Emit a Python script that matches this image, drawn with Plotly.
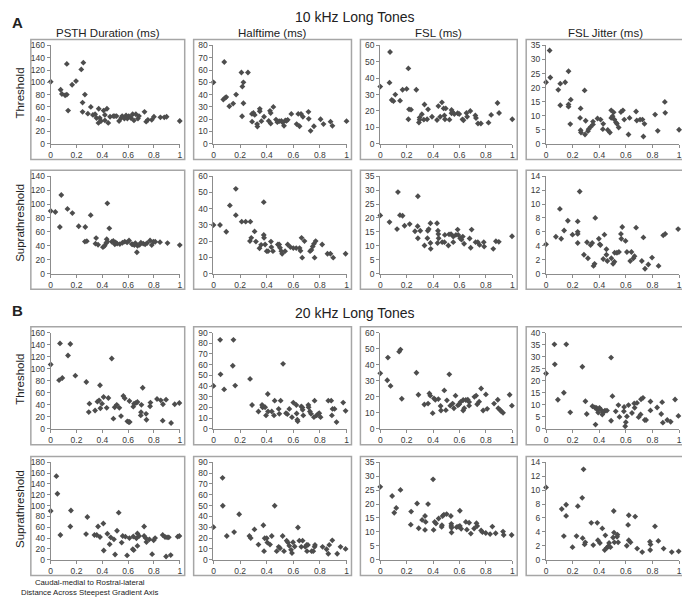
import plotly.graph_objects as go

# The page body adds an 8px margin around the figure div; compensate so that
# page pixel positions match the reference.
PAGE_W, PAGE_H = 690, 606
OFF = 8
W, H = PAGE_W - OFF, PAGE_H - OFF

# ---------------- DATA ----------------
column_titles = ["PSTH Duration (ms)", "Halftime (ms)", "FSL (ms)", "FSL Jitter (ms)"]
row_labels = ["Threshold", "Suprathreshold", "Threshold", "Suprathreshold"]
section_titles = ["10 kHz Long Tones", "20 kHz Long Tones"]
section_letters = ["A", "B"]
x_ticks = [0, 0.2, 0.4, 0.6, 0.8, 1]
x_tick_labels = ["0", "0.2", "0.4", "0.6", "0.8", "1"]

# y-axis maxima and tick steps per panel (row-major)
y_max = [160, 80, 60, 35, 140, 60, 35, 14, 160, 90, 60, 40, 180, 90, 35, 14]
y_step = [20, 10, 10, 5, 20, 10, 5, 2, 20, 10, 10, 5, 20, 10, 5, 2]

# ---- A: 10 kHz, Threshold ----
a_thr_psth_x = [0, 0.077, 0.087, 0.112, 0.125, 0.125, 0.135, 0.166, 0.196, 0.237, 0.253, 0.247, 0.247, 0.265,
                0.288, 0.311, 0.327, 0.344, 0.355, 0.372, 0.37, 0.38, 0.39, 0.41, 0.42, 0.436, 0.42, 0.446, 0.46,
                0.485, 0.497, 0.51, 0.53, 0.546, 0.554, 0.571, 0.584, 0.594, 0.605, 0.622, 0.635, 0.645, 0.66,
                0.676, 0.684, 0.727, 0.74, 0.753, 0.783, 0.8, 0.85, 0.88, 0.898, 1.0]
a_thr_psth_y = [101, 88, 81, 79, 80, 130, 54, 96, 102, 121, 132, 67, 52, 80,
                49, 60, 47, 48, 42, 57, 34, 42, 37, 54, 47, 57, 38, 34, 44,
                45, 45, 45, 37, 42, 45, 41, 46, 41, 45, 42, 48, 38, 48,
                41, 45, 52, 36, 39, 39, 44, 43, 43, 44, 37]

a_thr_half_x = [0, 0.074, 0.081, 0.089, 0.096, 0.119, 0.148, 0.17, 0.21, 0.215, 0.217, 0.225, 0.225, 0.259,
                0.289, 0.30, 0.29, 0.31, 0.328, 0.33, 0.348, 0.348, 0.36, 0.38, 0.415, 0.425, 0.43, 0.43, 0.45,
                0.47, 0.48, 0.494, 0.51, 0.52, 0.53, 0.54, 0.548, 0.558, 0.585, 0.625, 0.637, 0.647, 0.658,
                0.672, 0.714, 0.716, 0.73, 0.755, 0.805, 0.827, 0.88, 0.894, 1.0]
a_thr_half_y = [50, 36, 66.5, 37.5, 38, 30.5, 32.7, 40, 58, 22.4, 46.5, 50, 33, 58,
                24.3, 25, 18, 23.5, 16, 14, 28.4, 26.5, 18.4, 22, 18.6, 26.8, 25, 16.5, 30,
                19.7, 17.6, 18.4, 18.6, 17.3, 14.6, 19, 18.6, 19.5, 24.3, 16, 24.3, 14.3, 24.3,
                22, 26, 20.3, 10.5, 14.3, 20, 16, 18, 14.6, 18.4]

a_thr_fsl_x = [0, 0.07, 0.074, 0.087, 0.1, 0.114, 0.15, 0.169, 0.2, 0.213, 0.213, 0.218, 0.233, 0.273,
               0.293, 0.298, 0.298, 0.315, 0.335, 0.33, 0.355, 0.362, 0.392, 0.43, 0.44, 0.454, 0.467, 0.48,
               0.486, 0.49, 0.496, 0.524, 0.54, 0.54, 0.546, 0.561, 0.586, 0.598, 0.623, 0.63, 0.653, 0.658,
               0.682, 0.72, 0.725, 0.74, 0.762, 0.82, 0.84, 0.888, 0.9, 1.0]
a_thr_fsl_y = [34.9, 37.3, 56, 26.7, 26, 30, 26.3, 33, 33.5, 46, 15, 21, 20.8, 33,
               13, 14.7, 16, 18, 24, 14.7, 15, 21, 16.5, 14.5, 23, 16.5, 25.3, 21.6,
               17.3, 15, 21.6, 14.7, 20.6, 18.6, 19.4, 18.2, 18.6, 18.2, 14.9, 14.3, 18.8, 16.5,
               20, 17.3, 15.7, 12.4, 12.4, 12.9, 17.6, 24.9, 18.8, 15]

a_thr_jit_x = [0, 0.027, 0.032, 0.092, 0.107, 0.107, 0.144, 0.169, 0.169, 0.169, 0.186, 0.182, 0.26, 0.29,
               0.256, 0.26, 0.263, 0.298, 0.293, 0.315, 0.32, 0.335, 0.353, 0.353, 0.387, 0.41, 0.43, 0.427,
               0.464, 0.48, 0.49, 0.49, 0.5, 0.508, 0.514, 0.526, 0.533, 0.546, 0.563, 0.578, 0.588, 0.62,
               0.628, 0.677, 0.682, 0.707, 0.725, 0.732, 0.74, 0.82, 0.84, 0.893, 0.896, 1.0]
a_thr_jit_y = [21.9, 33.2, 23.6, 19.2, 21.4, 13.7, 21.9, 25.8, 14, 13.2, 15.7, 7, 12.6, 19,
               9.2, 4.8, 4, 8.2, 3.3, 4.5, 5.2, 6, 7.9, 6.9, 9, 8.6, 7.1, 5.2,
               4.9, 4, 11.9, 9.2, 9.8, 11.2, 8.6, 7.6, 7.1, 5.8, 11.3, 11.9, 8.6, 3.3,
               9.2, 11.5, 8.3, 8.6, 8.6, 2.6, 7.1, 10.4, 4.6, 14.9, 11, 5]

# ---- A: 10 kHz, Suprathreshold ----
a_sup_psth_x = [0, 0.036, 0.071, 0.082, 0.13, 0.168, 0.217, 0.268, 0.265, 0.28, 0.31, 0.347, 0.352, 0.367,
                0.405, 0.418, 0.43, 0.434, 0.439, 0.439, 0.454, 0.474, 0.485, 0.497, 0.503, 0.515, 0.536,
                0.556, 0.574, 0.592, 0.607, 0.628, 0.635, 0.648, 0.656, 0.668, 0.673, 0.689, 0.699, 0.717,
                0.732, 0.747, 0.77, 0.783, 0.796, 0.81, 0.847, 0.905, 1.0]
a_sup_psth_y = [90, 88.6, 67, 113, 93, 87, 68, 67, 46, 46.6, 84, 43, 51, 41.5,
                38, 40, 43.8, 49.5, 101, 46, 65, 45.7, 47, 42, 44.8, 43, 42.4,
                44.3, 46, 44.8, 47.6, 42.4, 42, 41, 43.8, 30.6, 40, 41.5, 44.3, 43,
                42, 43.8, 47.6, 41, 45.7, 45.7, 45.2, 43.8, 41]

a_sup_half_x = [0, 0.049, 0.096, 0.123, 0.168, 0.168, 0.212, 0.242, 0.277, 0.274, 0.284, 0.309, 0.319, 0.346,
                0.358, 0.378, 0.378, 0.38, 0.388, 0.4, 0.41, 0.432, 0.435, 0.447, 0.484, 0.494, 0.5, 0.51,
                0.516, 0.538, 0.558, 0.578, 0.6, 0.622, 0.647, 0.654, 0.662, 0.667, 0.684, 0.726, 0.736,
                0.746, 0.755, 0.76, 0.768, 0.817, 0.857, 0.879, 0.9, 0.993]
a_sup_half_y = [29.9, 29.9, 25.8, 42, 52.2, 36, 32, 32, 32, 20, 22, 26, 19.7, 15.6,
                17.7, 44, 23.8, 22, 17.9, 13.8, 13.8, 19.7, 16.3, 13.8, 17.9, 17.9, 15.9, 13.8,
                12.2, 13.8, 17.9, 16.3, 15.7, 15.7, 15.7, 14, 22, 9.8, 20, 13.8, 14.6,
                16.7, 18.3, 9.8, 20, 17.9, 12.2, 12.2, 9.8, 12.2]

a_sup_fsl_x = [0, 0.07, 0.127, 0.134, 0.149, 0.169, 0.184, 0.223, 0.263, 0.283, 0.285, 0.285, 0.303, 0.335,
               0.357, 0.36, 0.367, 0.38, 0.38, 0.382, 0.43, 0.434, 0.437, 0.44, 0.442, 0.469, 0.486, 0.489,
               0.516, 0.521, 0.536, 0.553, 0.553, 0.573, 0.586, 0.591, 0.605, 0.615, 0.625, 0.635, 0.677,
               0.685, 0.692, 0.722, 0.739, 0.752, 0.784, 0.787, 0.856, 0.876, 0.898, 0.998]
a_sup_fsl_y = [20.9, 18.5, 16, 29.3, 21, 20.8, 17.2, 17.8, 15.2, 17, 27.8, 12.7, 15.4, 10.1,
               12.7, 15.4, 16, 18.1, 11, 8.9, 18.1, 11, 15.4, 14.2, 12.7, 11.3, 11.3, 13.9,
               10.1, 14.1, 14.2, 11.3, 13.3, 13.9, 15.8, 13.9, 12.7, 12.2, 13.3, 10.7, 12.6,
               9.3, 15.8, 11.3, 11.3, 10.3, 11.3, 9.7, 8.9, 11.6, 11.4, 13.4]

a_sup_jit_x = [0, 0.074, 0.104, 0.114, 0.136, 0.164, 0.199, 0.238, 0.238, 0.238, 0.238, 0.253, 0.285, 0.308,
               0.315, 0.335, 0.347, 0.357, 0.365, 0.37, 0.397, 0.404, 0.409, 0.43, 0.439, 0.454, 0.454,
               0.461, 0.491, 0.504, 0.514, 0.516, 0.533, 0.548, 0.563, 0.566, 0.573, 0.598, 0.608, 0.633,
               0.642, 0.657, 0.665, 0.677, 0.72, 0.732, 0.744, 0.769, 0.797, 0.846, 0.881, 0.896, 0.993]
a_sup_jit_y = [4.2, 5.3, 9.3, 5, 6.2, 7.6, 5.6, 7.5, 6, 5.7, 4.4, 11.8, 2.7, 4.5,
               2.2, 4.1, 4.4, 1.1, 1.4, 8, 5, 4.2, 4.1, 2.1, 5.6, 3.5, 2.7,
               1.8, 2.2, 1.4, 1.7, 3, 3, 3.1, 5.7, 5, 6.7, 4.7, 3.1, 1.8,
               3.1, 2.2, 2.5, 6.6, 1.8, 5.2, 0.7, 1.3, 2.3, 1.1, 5.5, 5.7, 6.4]

# ---- B: 20 kHz, Threshold ----
b_thr_psth_x = [0, 0.065, 0.072, 0.09, 0.134, 0.152, 0.191, 0.276, 0.295, 0.3, 0.344, 0.362, 0.375, 0.382,
                0.385, 0.398, 0.41, 0.434, 0.447, 0.473, 0.486, 0.496, 0.512, 0.532, 0.545, 0.563, 0.574,
                0.594, 0.605, 0.61, 0.612, 0.64, 0.646, 0.66, 0.672, 0.698, 0.7, 0.703, 0.713, 0.739, 0.742,
                0.77, 0.773, 0.824, 0.853, 0.87, 0.868, 0.894, 0.933, 0.961, 0.997]
b_thr_psth_y = [107, 81, 142, 84.6, 122, 141, 88.5, 78, 28, 42, 30.6, 45.3, 47.5, 72.6,
                34.4, 42, 53, 35, 51.3, 117, 17, 36, 40, 35, 21.3, 54.6, 50.8,
                12.6, 11.5, 46.4, 11.5, 37, 42, 43, 44.8, 22.4, 27.9, 40, 68.3, 25.1, 15.3,
                37.7, 43.7, 49.7, 47.5, 41, 13.7, 48.6, 9.8, 41, 43]

b_thr_half_x = [0, 0.05, 0.053, 0.08, 0.145, 0.15, 0.163, 0.275, 0.29, 0.338, 0.365, 0.368, 0.375, 0.388,
                0.395, 0.408, 0.41, 0.438, 0.455, 0.46, 0.49, 0.495, 0.505, 0.523, 0.545, 0.555, 0.57, 0.59,
                0.6, 0.623, 0.625, 0.63, 0.633, 0.66, 0.668, 0.67, 0.675, 0.713, 0.715, 0.725, 0.733, 0.755,
                0.76, 0.775, 0.788, 0.795, 0.805, 0.863, 0.885, 0.89, 0.895, 0.91, 0.925, 0.975, 0.993]
b_thr_half_y = [40.2, 83.2, 51, 36.9, 59, 83.2, 40.5, 46.7, 22.4, 16.3, 22.4, 20.3, 20.9, 20.3,
                12.6, 32.6, 16.3, 16.3, 12.6, 26.4, 18.7, 14.1, 26.4, 60.8, 14.7, 13.8, 18.7, 11,
                24.6, 22.4, 14.4, 8.6, 7.1, 20.9, 20, 17.8, 12.6, 22.4, 20.3, 16.3, 14.1, 11,
                26.4, 12.6, 14.1, 14.7, 11, 26.4, 26.4, 12.6, 18.7, 18.7, 6.4, 24.6, 16.9]

b_thr_fsl_x = [0, 0.053, 0.058, 0.078, 0.143, 0.153, 0.163, 0.274, 0.289, 0.334, 0.362, 0.372, 0.379, 0.397,
               0.407, 0.417, 0.44, 0.457, 0.46, 0.485, 0.497, 0.505, 0.523, 0.53, 0.548, 0.558, 0.57, 0.588,
               0.598, 0.608, 0.628, 0.628, 0.636, 0.648, 0.663, 0.673, 0.673, 0.713, 0.726, 0.734, 0.749,
               0.764, 0.779, 0.8, 0.81, 0.862, 0.89, 0.894, 0.91, 0.917, 0.93, 0.98, 0.997]
b_thr_fsl_y = [34.6, 30.3, 44.4, 26.8, 48.1, 49.4, 18.8, 35, 21.3, 15.2, 15.8, 22.1, 20.7, 9.8,
               19, 18.2, 18.6, 14.3, 11.5, 24, 11.7, 17.8, 34, 14.5, 15.8, 12.9, 20.7, 14.7,
               15.4, 16.8, 18, 11.5, 12.9, 18, 18.2, 16.8, 14.5, 20, 20.7, 15.4, 17,
               25.2, 11.5, 21.5, 12.5, 15.8, 18.2, 12.9, 11.7, 10.9, 10, 21.3, 14.5]

b_thr_jit_x = [0, 0.063, 0.066, 0.089, 0.134, 0.152, 0.182, 0.273, 0.296, 0.306, 0.349, 0.367, 0.372, 0.38,
               0.387, 0.392, 0.402, 0.415, 0.423, 0.43, 0.443, 0.458, 0.489, 0.489, 0.499, 0.524, 0.544,
               0.552, 0.587, 0.585, 0.595, 0.6, 0.608, 0.62, 0.646, 0.663, 0.666, 0.684, 0.696, 0.711,
               0.714, 0.729, 0.742, 0.752, 0.785, 0.785, 0.835, 0.866, 0.873, 0.878, 0.911, 0.937, 0.97, 0.995]
b_thr_jit_y = [23, 35.1, 26.8, 12.1, 15, 35.1, 6.9, 25.8, 11.5, 6.2, 9.4, 8.9, 1.8, 8.7,
               7.9, 6.8, 8.7, 7.9, 6, 6.8, 7.6, 7.6, 29.6, 3.4, 13.6, 7.3, 9.9,
               5, 9.1, 7.3, 1.1, 2.8, 5.2, 9.9, 6.6, 10.6, 8.8, 10.8, 4.9, 6,
               12.3, 12.9, 3.7, 3.7, 11.4, 7.7, 8.9, 6.2, 11.1, 2.6, 3.7, 3, 12.2, 5.4]

# ---- B: 20 kHz, Suprathreshold ----
b_sup_psth_x = [0, 0.044, 0.052, 0.075, 0.152, 0.157, 0.284, 0.274, 0.339, 0.357, 0.367, 0.382, 0.408, 0.411,
                0.439, 0.457, 0.465, 0.49, 0.499, 0.514, 0.527, 0.55, 0.558, 0.579, 0.592, 0.61, 0.636, 0.643,
                0.64, 0.664, 0.672, 0.672, 0.685, 0.724, 0.724, 0.736, 0.742, 0.765, 0.786, 0.798, 0.809,
                0.868, 0.886, 0.894, 0.902, 0.915, 0.93, 0.984, 0.997]
b_sup_psth_y = [90, 154.5, 122, 45.6, 61.4, 91, 79, 47.4, 45.6, 45.6, 61.4, 42, 67, 17,
                48, 28.6, 41.4, 37.7, 9.7, 53.5, 87, 31.6, 43.8, 42.6, 7.9, 40, 19.5, 17.6,
                43, 39.5, 48.6, 25.5, 43.8, 61.4, 43.8, 40, 32.8, 37.7, 10.3, 35.9, 40,
                45.6, 42, 6, 41.4, 41.4, 8.5, 42.6, 43.8]

b_sup_half_x = [0, 0.068, 0.07, 0.1, 0.155, 0.193, 0.27, 0.28, 0.308, 0.338, 0.375, 0.38, 0.385, 0.4,
                0.405, 0.425, 0.438, 0.46, 0.475, 0.49, 0.5, 0.52, 0.53, 0.55, 0.56, 0.57, 0.583, 0.59,
                0.598, 0.61, 0.635, 0.645, 0.66, 0.67, 0.69, 0.7, 0.703, 0.71, 0.738, 0.75, 0.76, 0.763,
                0.82, 0.85, 0.863, 0.87, 0.893, 0.93, 0.955, 0.993]
b_sup_half_y = [30.1, 75.7, 49.9, 21.9, 25.5, 42, 21.9, 20, 28, 14, 31.9, 7.9, 19.8, 19.8,
                15.8, 14, 21.9, 49.9, 7.9, 11.9, 10.6, 21.9, 7.9, 17.6, 15.8, 12.8, 9.1, 6.1,
                16.1, 12.2, 29.8, 17.6, 11.9, 17.6, 11.9, 13.7, 7.9, 13.7, 7.9, 7.9, 11.9, 13.7,
                11.9, 9.7, 5.5, 13.7, 17.9, 5.5, 11.9, 10]

b_sup_fsl_x = [0, 0.09, 0.106, 0.121, 0.153, 0.234, 0.231, 0.279, 0.291, 0.317, 0.339, 0.344, 0.339, 0.362,
               0.4, 0.404, 0.412, 0.422, 0.442, 0.465, 0.467, 0.472, 0.482, 0.503, 0.535, 0.538, 0.538, 0.54,
               0.54, 0.578, 0.59, 0.603, 0.603, 0.613, 0.648, 0.656, 0.673, 0.686, 0.711, 0.729, 0.734,
               0.764, 0.774, 0.799, 0.832, 0.849, 0.874, 0.93, 0.935, 0.995]
b_sup_fsl_y = [26.2, 22.9, 16.9, 18.6, 25.1, 17.3, 12.6, 20.2, 11.3, 14.3, 15.7, 13.6, 10.7, 20,
               28.9, 10.7, 13.6, 13, 14.8, 11.8, 12.4, 15.7, 16.2, 16.4, 15.7, 12.9, 12.1, 11.5,
               9.8, 11.7, 11.9, 17.6, 12.1, 11.1, 13.6, 10.8, 13.3, 9.4, 11.2, 13.1, 12.1,
               10.5, 9.9, 9.6, 9.2, 11.9, 9.5, 10.1, 8.9, 8.9]

b_sup_jit_x = [0, 0.118, 0.134, 0.151, 0.151, 0.199, 0.229, 0.239, 0.272, 0.282, 0.275, 0.29, 0.295, 0.34,
               0.355, 0.385, 0.39, 0.405, 0.423, 0.441, 0.446, 0.456, 0.466, 0.474, 0.484, 0.504, 0.509,
               0.511, 0.514, 0.534, 0.537, 0.542, 0.607, 0.617, 0.622, 0.622, 0.635, 0.67, 0.685, 0.723,
               0.781, 0.786, 0.783, 0.819, 0.844, 0.884, 0.945, 0.997]
b_sup_jit_y = [10.4, 7.3, 3.4, 7.9, 6.3, 1.8, 3.4, 7.7, 8.9, 13, 3.1, 2.2, 2.5, 5.3,
               2.1, 5.3, 2.8, 2.4, 4.5, 1.4, 3.5, 1.7, 1.9, 2.4, 1.8, 3.2, 7,
               3.9, 2.5, 3.3, 3.6, 2.5, 2, 5, 6.4, 2.8, 2.5, 6.2, 1.6, 1.1,
               2.6, 2.2, 1.4, 4.8, 2.7, 1.6, 1.1, 1.2]

panel_x = [a_thr_psth_x, a_thr_half_x, a_thr_fsl_x, a_thr_jit_x,
           a_sup_psth_x, a_sup_half_x, a_sup_fsl_x, a_sup_jit_x,
           b_thr_psth_x, b_thr_half_x, b_thr_fsl_x, b_thr_jit_x,
           b_sup_psth_x, b_sup_half_x, b_sup_fsl_x, b_sup_jit_x]
panel_y = [a_thr_psth_y, a_thr_half_y, a_thr_fsl_y, a_thr_jit_y,
           a_sup_psth_y, a_sup_half_y, a_sup_fsl_y, a_sup_jit_y,
           b_thr_psth_y, b_thr_half_y, b_thr_fsl_y, b_thr_jit_y,
           b_sup_psth_y, b_sup_half_y, b_sup_fsl_y, b_sup_jit_y]

# ---------------- LAYOUT (page-pixel geometry) ----------------
col_px = [(49, 179), (213, 347), (381, 514), (548, 682)]
row_px = [(41, 141), (174, 273), (333, 431), (465, 564)]

def px_x(p):
    return (p - OFF) / W

def px_y(p):
    return 1 - (p - OFF) / H

AX_COL = "#8c8c8c"
TXT = "#3a3a3a"
FONT = "Liberation Sans, Arial, sans-serif"

fig = go.Figure()
layout_axes = {}
shapes = []
annotations = []

for i in range(16):
    r, c = divmod(i, 4)
    n = i + 1
    xa = "x" if n == 1 else f"x{n}"
    ya = "y" if n == 1 else f"y{n}"
    fig.add_trace(go.Scatter(
        x=panel_x[i], y=panel_y[i], mode="markers", xaxis=xa, yaxis=ya,
        marker=dict(symbol="diamond", size=4.5, color="#4d4d4d", line=dict(width=0)),
        cliponaxis=False, showlegend=False, hoverinfo="x+y"))
    x0, x1 = col_px[c]
    yt, yb = row_px[r]
    xkey = "xaxis" if n == 1 else f"xaxis{n}"
    ykey = "yaxis" if n == 1 else f"yaxis{n}"
    ticks_y = list(range(0, y_max[i] + 1, y_step[i]))
    layout_axes[xkey] = dict(
        domain=[px_x(x0), px_x(x1)], anchor=ya, range=[0, 1],
        tickvals=x_ticks, ticktext=x_tick_labels, showgrid=False, zeroline=False,
        showline=True, linecolor=AX_COL, linewidth=1, ticks="outside", ticklen=3,
        tickcolor=AX_COL, tickfont=dict(size=8.5, color=TXT, family=FONT), fixedrange=True,
        ticklabeloverflow="allow")
    layout_axes[ykey] = dict(
        domain=[px_y(yb), px_y(yt)], anchor=xa, range=[0, y_max[i]],
        tickvals=ticks_y, showgrid=False, zeroline=False,
        showline=True, linecolor=AX_COL, linewidth=1, ticks="outside", ticklen=3,
        tickcolor=AX_COL, tickfont=dict(size=8.5, color=TXT, family=FONT), fixedrange=True,
        ticklabeloverflow="allow")
    # panel frame
    shapes.append(dict(type="rect", xref="paper", yref="paper",
                       x0=px_x(x0 - 20), x1=px_x(x1 + 5),
                       y0=px_y(yb + 16), y1=px_y(yt - 6),
                       line=dict(color="#a6a6a6", width=1.5), layer="below"))

# section titles and letters
title_y = [12, 313]
letter_y = [18, 311]
for letter, title, ty, ly in zip(section_letters, section_titles, title_y, letter_y):
    annotations.append(dict(text=f"<b>{letter}</b>", x=px_x(8), y=px_y(ly), xref="paper", yref="paper",
                            xanchor="left", yanchor="middle", showarrow=False,
                            font=dict(size=15, color="#222", family=FONT)))
    annotations.append(dict(text=title, x=px_x(356), y=px_y(ty), xref="paper", yref="paper",
                            xanchor="center", yanchor="middle", showarrow=False,
                            font=dict(size=14, color="#222", family=FONT)))

# column titles (only over section A)
for c, t in enumerate(column_titles):
    x0, x1 = col_px[c]
    annotations.append(dict(text=t, x=px_x((x0 - 20 + x1 + 5) / 2), y=px_y(28), xref="paper", yref="paper",
                            xanchor="center", yanchor="middle", showarrow=False,
                            font=dict(size=11.5, color="#222", family=FONT)))

# row labels
for r, lab in enumerate(row_labels):
    yt, yb = row_px[r]
    annotations.append(dict(text=lab, x=px_x(18), y=px_y((yt + yb) / 2 - 2), xref="paper", yref="paper",
                            xanchor="center", yanchor="middle", showarrow=False, textangle=-90,
                            font=dict(size=11.5, color="#222", family=FONT)))

# bottom x-axis description
annotations.append(dict(text="Caudal-medial to Rostral-lateral<br>Distance Across Steepest Gradient Axis",
                        x=px_x(88), y=px_y(592), xref="paper", yref="paper",
                        xanchor="center", yanchor="middle", showarrow=False, align="center",
                        font=dict(size=7.8, color="#222", family=FONT)))

fig.update_layout(
    width=W, height=H, margin=dict(l=0, r=0, t=0, b=0),
    paper_bgcolor="white", plot_bgcolor="rgba(0,0,0,0)",
    shapes=shapes, annotations=annotations, **layout_axes)

fig.write_html("out.html")
